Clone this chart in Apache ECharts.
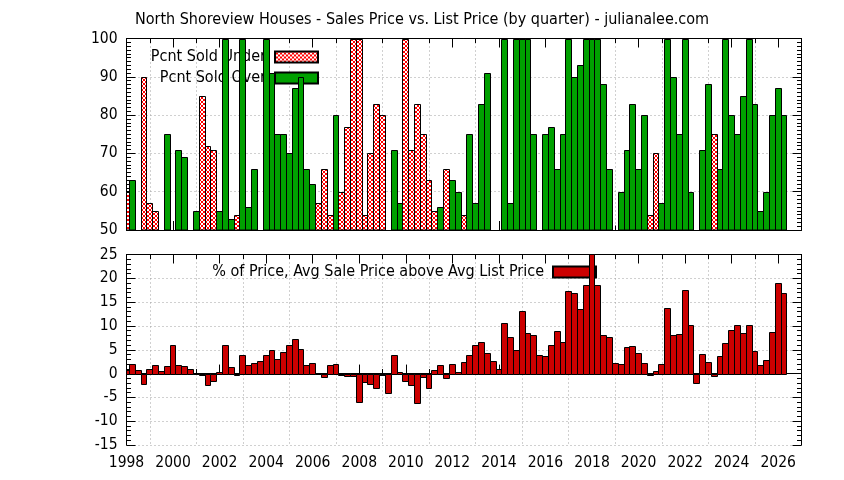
<!DOCTYPE html>
<html><head><meta charset="utf-8">
<script src="https://cdn.jsdelivr.net/npm/echarts@6/dist/echarts.min.js"></script>
<style>html,body{margin:0;padding:0;background:#fff}#c{width:844px;height:480px}</style>
</head><body><div id="c"></div>
<script>
// quarters start at 1998 Q1, one value per quarter
const startYear = 1998;
const endYear = 2027;
const titleText = 'North Shoreview Houses - Sales Price vs. List Price (by quarter) - julianalee.com';
const nameUnder = 'Pcnt Sold Under';
const nameOver = 'Pcnt Sold Over';
const namePct = '% of Price, Avg Sale Price above Avg List Price';

const soldUnder = [
 60,null,null,90,57,55,null,null,null,null, null,null,null,85,72,71,null,null,null,54,
 null,null,null,null,null,null,null,null,null,null, null,null,null,57,66,54,null,60,77,100,
 100,54,70,83,80,null,null,null,100,71, 83,75,63,55,null,66,null,null,54,null,
 null,null,null,null,null,null,null,null,null,null, null,null,null,null,null,null,null,null,null,null,
 null,null,null,null,null,null,null,null,null,null, 54,70,null,null,null,null,null,null,null,null,
 null,75,null,null,null,null,null,null,null,null, null,null,null,null
];
const soldOver = [
 null,63,null,null,null,null,null,75,null,71, 69,null,55,null,null,null,55,100,53,null,
 100,56,66,null,100,91,75,75,70,87, 90,66,62,null,null,null,80,null,null,null,
 null,null,null,null,null,null,71,57,null,null, null,null,null,null,56,null,63,60,null,75,
 57,83,91,null,null,100,57,100,100,100, 75,null,75,77,66,75,100,90,93,100,
 100,100,88,66,null,60,71,83,66,80, null,null,57,100,90,75,100,60,null,71,
 88,null,66,100,80,75,85,100,83,55, 60,80,87,80
];
const pctAbove = [
 0.7,2.1,0.8,-2.1,1.0,1.9,0.6,1.5,5.9,1.9, 1.5,1.0,0.0,-0.4,-2.3,-1.6,0.4,5.9,1.3,-0.3,
 3.8,1.9,2.3,2.7,4.0,5.0,3.1,4.6,6.1,7.3, 5.2,1.9,2.3,0.0,-0.8,1.9,2.1,-0.4,-0.6,-0.6,
 -5.9,-1.8,-2.1,-3.1,-0.4,-4.0,4.0,0.4,-1.5,-2.5, -6.1,-0.8,-3.1,0.8,1.7,-1.0,2.1,0.4,2.5,3.8,
 5.9,6.7,4.4,2.7,1.0,10.7,7.6,5.0,13.2,8.6, 8.0,4.0,3.6,6.1,9.0,6.7,17.4,17.0,13.6,18.5,
 25.5,18.5,8.0,7.6,2.3,2.1,5.5,5.7,4.4,2.3, -0.2,0.6,2.1,13.8,8.2,8.4,17.6,10.3,-1.9,4.2,
 2.5,-0.6,3.6,6.5,9.2,10.3,8.6,10.1,4.8,1.7, 2.9,8.8,19.1,17.0
];
const topTicks = { min: 50, max: 100, step: 10, minor: 10 };
const botTicks = { min: -15, max: 25, step: 5, minor: 5 };

const quarters = pctAbove.map((_, i) => startYear + i / 4);
const QUARTER = 0.25;

const FONT = "'DejaVu Sans Condensed', 'DejaVu Sans', sans-serif";
const GRIDC = '#a0a0a0';

function hatch() {
  const c = document.createElement('canvas');
  c.width = 4; c.height = 4;
  const g = c.getContext('2d');
  g.fillStyle = '#ffffff'; g.fillRect(0, 0, 4, 4);
  g.fillStyle = '#ff0000';
  for (let k = 0; k < 4; k++) { g.fillRect(k, k, 1, 1); g.fillRect(3 - k, k, 1, 1); }
  return c;
}
const HATCH = { image: hatch(), repeat: 'repeat' };

function xAx(grid, pos, step, tickLen, labels, grid2) {
  return {
    type: 'value', gridIndex: grid, position: pos, min: startYear, max: endYear, interval: step,
    axisLine: { show: step === 2, lineStyle: { color: '#000', width: 1 } },
    axisTick: { show: true, inside: true, length: tickLen, lineStyle: { color: '#000' } },
    axisLabel: { show: labels, color: '#000', fontFamily: FONT, fontSize: 15.5, margin: 10,
      showMaxLabel: false, formatter: v => String(v) },
    splitLine: { show: !!grid2, lineStyle: { color: ['rgba(0,0,0,0)', GRIDC], type: [1, 3], width: 1 } }
  };
}
function yAx(grid, pos, t, labels) {
  return {
    type: 'value', gridIndex: grid, position: pos, min: t.min, max: t.max, interval: t.step,
    axisLine: { show: true, lineStyle: { color: '#000', width: 1 } },
    axisTick: { show: true, inside: true, length: 9, lineStyle: { color: '#000' } },
    minorTick: { show: true, splitNumber: t.minor, length: 4.5, lineStyle: { color: '#000' } },
    axisLabel: { show: labels, color: '#000', fontFamily: FONT, fontSize: 15.5, margin: 9 },
    splitLine: { show: labels, lineStyle: { color: GRIDC, type: [1, 3], width: 1 } }
  };
}

// bar drawn through the axis scales, edges snapped to pixel centres like gnuplot
function barRenderer(base, fill) {
  return function (params, api) {
    const x = api.value(0), v = api.value(1);
    if (v == null || isNaN(v)) return null;
    const pL = api.coord([x - QUARTER / 2, v]);
    const pR = api.coord([x + QUARTER / 2, base]);
    const x0 = Math.floor(pL[0]) + 0.5, x1 = Math.floor(pR[0]) + 0.5;
    const yv = Math.round(pL[1]) + 0.5, yb = Math.round(pR[1]) + 0.5;
    const shape = echarts.graphic.clipRectByRect(
      { x: x0, y: Math.min(yv, yb), width: x1 - x0, height: Math.abs(yb - yv) },
      { x: params.coordSys.x, y: params.coordSys.y, width: params.coordSys.width, height: params.coordSys.height });
    if (!shape) return null;
    return { type: 'rect', shape: shape, style: { fill: fill, stroke: '#000', lineWidth: 1 } };
  };
}

const chart = echarts.init(document.getElementById('c'), null, { renderer: 'canvas' });
chart.setOption({
  animation: false,
  backgroundColor: '#fff',
  textStyle: { fontFamily: FONT },
  title: { text: titleText, left: 'center', top: 12, padding: 0,
    textStyle: { fontFamily: FONT, fontSize: 16, fontWeight: 'normal', color: '#000' } },
  grid: [
    { left: 126.5, top: 38.5, width: 675, height: 191.5 },
    { left: 126.5, top: 254.5, width: 675, height: 190.5 }
  ],
  xAxis: [
    xAx(0, 'bottom', 2, 9, false, false),
    xAx(0, 'bottom', 1, 4.5, false, true),
    xAx(0, 'top', 2, 9, false, false),
    xAx(0, 'top', 1, 4.5, false, false),
    xAx(1, 'bottom', 2, 9, true, false),
    xAx(1, 'bottom', 1, 4.5, false, true),
    xAx(1, 'top', 2, 9, false, false),
    xAx(1, 'top', 1, 4.5, false, false)
  ],
  yAxis: [
    yAx(0, 'left', topTicks, true),
    yAx(0, 'right', topTicks, false),
    yAx(1, 'left', botTicks, true),
    yAx(1, 'right', botTicks, false)
  ],
  legend: [
    { data: [nameUnder, nameOver], orient: 'vertical', align: 'right', right: 525, top: 49,
      padding: 0, itemWidth: 43, itemHeight: 11, itemGap: 5, selectedMode: false, icon: 'rect',
      textStyle: { fontFamily: FONT, fontSize: 16, color: '#000', padding: [0, 4, 0, 0] } },
    { data: [namePct], orient: 'vertical', align: 'right', right: 247, top: 264,
      padding: 0, itemWidth: 43, itemHeight: 11, selectedMode: false, icon: 'rect',
      textStyle: { fontFamily: FONT, fontSize: 16, color: '#000', padding: [0, 4, 0, 0] } }
  ],
  series: [
    { name: nameUnder, type: 'custom', xAxisIndex: 0, yAxisIndex: 0, z: 5,
      encode: { x: 0, y: 1 },
      itemStyle: { color: HATCH, borderColor: '#000', borderWidth: 1 },
      renderItem: barRenderer(topTicks.min, HATCH),
      data: quarters.map((x, i) => [x, soldUnder[i]]) },
    { name: nameOver, type: 'custom', xAxisIndex: 0, yAxisIndex: 0, z: 5,
      encode: { x: 0, y: 1 },
      itemStyle: { color: '#00a000', borderColor: '#000', borderWidth: 1 },
      renderItem: barRenderer(topTicks.min, '#00a000'),
      data: quarters.map((x, i) => [x, soldOver[i]]) },
    { name: namePct, type: 'custom', xAxisIndex: 4, yAxisIndex: 2, z: 5,
      encode: { x: 0, y: 1 },
      itemStyle: { color: '#cc0000', borderColor: '#000', borderWidth: 1 },
      renderItem: barRenderer(0, '#cc0000'),
      data: quarters.map((x, i) => [x, pctAbove[i]]) }
  ]
});
</script></body></html>
